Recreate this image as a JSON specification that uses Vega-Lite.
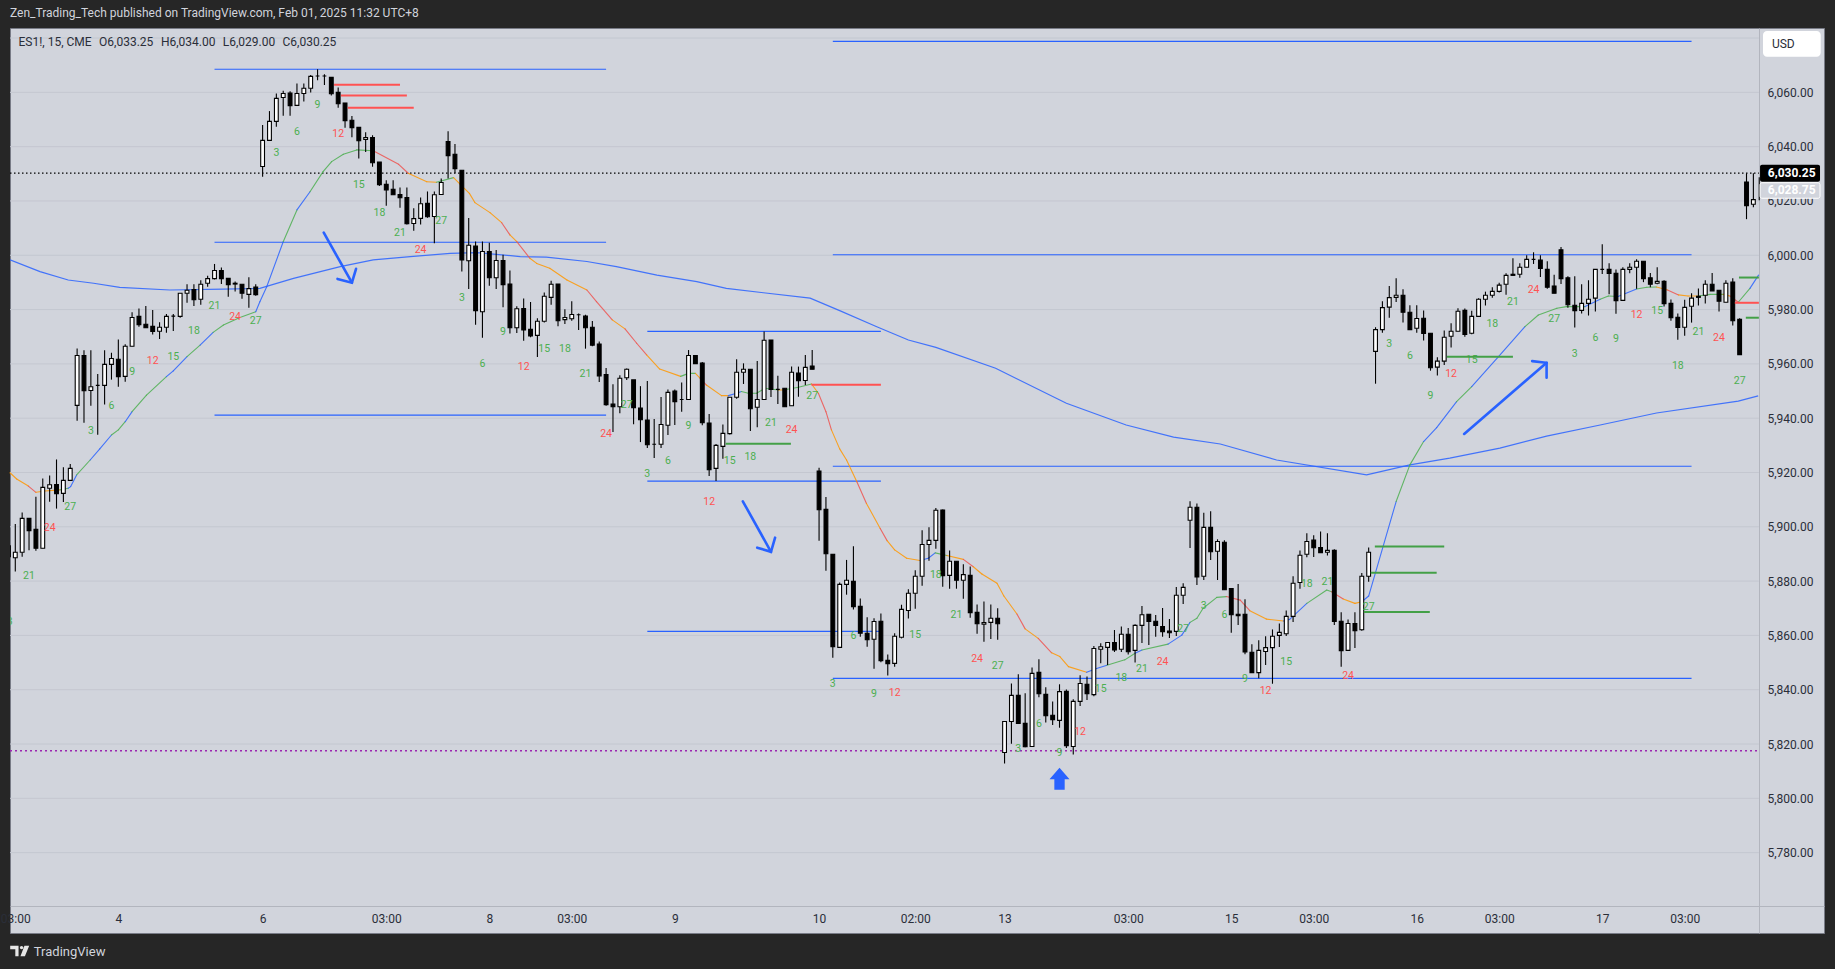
{"$schema":"https://vega.github.io/schema/vega-lite/v6.json","width":1814,"height":905,"autosize":{"type":"none"},"padding":{"left":10,"top":28,"right":11,"bottom":36},"background":"#262626","view":{"fill":"#d1d4dc","stroke":"#787b86","strokeWidth":1},
"title":{"text":"Zen_Trading_Tech published on TradingView.com, Feb 01, 2025 11:32 UTC+8","anchor":"start","frame":"group","offset":8,"fontSize":12,"font":"Roboto","fontWeight":"normal","color":"#d1d4dc"},
"config":{"text":{"font":"Roboto"}},
"datasets":{
"grid":[{"i":-0.77,"i2":253.8,"p":5780},{"i":-0.77,"i2":253.8,"p":5800},{"i":-0.77,"i2":253.8,"p":5820},{"i":-0.77,"i2":253.8,"p":5840},{"i":-0.77,"i2":253.8,"p":5860},{"i":-0.77,"i2":253.8,"p":5880},{"i":-0.77,"i2":253.8,"p":5900},{"i":-0.77,"i2":253.8,"p":5920},{"i":-0.77,"i2":253.8,"p":5940},{"i":-0.77,"i2":253.8,"p":5960},{"i":-0.77,"i2":253.8,"p":5980},{"i":-0.77,"i2":253.8,"p":6000},{"i":-0.77,"i2":253.8,"p":6020},{"i":-0.77,"i2":253.8,"p":6040},{"i":-0.77,"i2":253.8,"p":6060},{"i":-0.77,"i2":253.8,"p":6080}],
"levels":[{"i":29,"i2":86,"p":6068.5,"k":"box"},{"i":29,"i2":86,"p":6004.8,"k":"box"},{"i":29,"i2":86,"p":5941.1,"k":"box"},{"i":92,"i2":126,"p":5972,"k":"box"},{"i":92,"i2":126,"p":5916.8,"k":"box"},{"i":92,"i2":126,"p":5861.5,"k":"box"},{"i":119,"i2":244,"p":6078.8,"k":"box"},{"i":119,"i2":244,"p":6000.2,"k":"box"},{"i":119,"i2":244,"p":5922.3,"k":"box"},{"i":119,"i2":244,"p":5844.2,"k":"box"},
{"i":46.4,"i2":56,"p":6062.8,"k":"sell"},{"i":47.4,"i2":57,"p":6058.8,"k":"sell"},{"i":48.4,"i2":58,"p":6054.3,"k":"sell"},{"i":115.9,"i2":126,"p":5952.3,"k":"sell"},{"i":250.3,"i2":253.8,"p":5982.5,"k":"sell"},
{"i":103.4,"i2":112.9,"p":5930.6,"k":"buy"},{"i":197.9,"i2":208,"p":5892.7,"k":"buy"},{"i":197.3,"i2":206.9,"p":5883.1,"k":"buy"},{"i":196.3,"i2":205.9,"p":5868.6,"k":"buy"},{"i":208.4,"i2":218,"p":5962.6,"k":"buy"},{"i":250.9,"i2":253.8,"p":5991.8,"k":"buy"},{"i":251.9,"i2":253.8,"p":5977,"k":"buy"},
{"i":-0.77,"i2":253.8,"p":6030.25,"k":"last"},{"i":-0.77,"i2":253.8,"p":5817.5,"k":"low"}],
"slow":[{"i":-0.77,"p":5998.3},{"i":3.6,"p":5994},{"i":7.7,"p":5990.9},{"i":11.4,"p":5989.7},{"i":15.2,"p":5988.2},{"i":22.5,"p":5987.2},{"i":30.3,"p":5987.5},{"i":35.6,"p":5987.8},{"i":40.5,"p":5991.5},{"i":47.3,"p":5995.8},{"i":52.1,"p":5998.3},{"i":57.5,"p":5999.5},{"i":63.3,"p":6000.7},{"i":67.2,"p":6001},{"i":73.5,"p":5999.5},{"i":77.3,"p":5999.3},{"i":83.2,"p":5997.7},{"i":87.5,"p":5995.8},{"i":93.4,"p":5992.7},{"i":99.2,"p":5990.3},{"i":103.5,"p":5987.8},{"i":108.9,"p":5986.2},{"i":115.7,"p":5984.2},{"i":120,"p":5979.6},{"i":125.4,"p":5973.7},{"i":130,"p":5968.8},{"i":134,"p":5966.1},{"i":142.7,"p":5958.4},{"i":153,"p":5945.5},{"i":161.7,"p":5937.5},{"i":168.6,"p":5933},{"i":175.4,"p":5930.5},{"i":183.6,"p":5924.6},{"i":196.7,"p":5919.1},{"i":203,"p":5922.8},{"i":208.8,"p":5925.3},{"i":216.1,"p":5929},{"i":222.9,"p":5933.4},{"i":230.7,"p":5937.5},{"i":238.9,"p":5941.9},{"i":250.8,"p":5946.3},{"i":253.7,"p":5948.2}],
"fast":[{"i":-0.77,"p":5919.9,"t":"o"},{"i":0.2,"p":5917.6,"t":"o"},{"i":1.9,"p":5915,"t":"r"},{"i":3,"p":5912.7,"t":"o"},{"i":4.3,"p":5913.2,"t":"o"},{"i":6.5,"p":5913.6,"t":"g"},{"i":7.7,"p":5914.2,"t":"b"},{"i":8.06,"p":5914.8,"t":"b"},{"i":8.93,"p":5919.1,"t":"g"},{"i":10.9,"p":5924.6,"t":"b"},{"i":12.3,"p":5928.7,"t":"b"},{"i":14,"p":5933.8,"t":"g"},{"i":15,"p":5935.7,"t":"g"},{"i":16,"p":5938.7,"t":"b"},{"i":17,"p":5942.4,"t":"g"},{"i":19.1,"p":5948.5,"t":"g"},{"i":22,"p":5955.3,"t":"b"},{"i":23,"p":5957.4,"t":"b"},{"i":25,"p":5962.7,"t":"g"},{"i":26.9,"p":5966.9,"t":"b"},{"i":28.8,"p":5971.6,"t":"g"},{"i":30.3,"p":5974.3,"t":"g"},{"i":32.7,"p":5977.1,"t":"g"},{"i":35,"p":5979.2,"t":"b"},{"i":35.6,"p":5982.9,"t":"b"},{"i":36.6,"p":5988.4,"t":"b"},{"i":39,"p":6005,"t":"g"},{"i":41,"p":6016.7,"t":"b"},{"i":42.9,"p":6023.4,"t":"g"},{"i":44.8,"p":6030.8,"t":"g"},{"i":46.05,"p":6034.5,"t":"g"},{"i":47.75,"p":6037.2,"t":"g"},{"i":49.7,"p":6038.8,"t":"g"},{"i":52.1,"p":6038.5,"t":"r"},{"i":55.8,"p":6033.5,"t":"r"},{"i":57.2,"p":6030.2,"t":"o"},{"i":59.9,"p":6027.1,"t":"o"},{"i":61.3,"p":6026.9,"t":"g"},{"i":63.8,"p":6028.6,"t":"o"},{"i":64.7,"p":6026.3,"t":"o"},{"i":66.1,"p":6022.8,"t":"o"},{"i":66.9,"p":6019.4,"t":"o"},{"i":69.1,"p":6015.7,"t":"o"},{"i":70.8,"p":6012,"t":"r"},{"i":72,"p":6007.5,"t":"o"},{"i":73,"p":6005,"t":"r"},{"i":74.9,"p":5998.9,"t":"o"},{"i":75.9,"p":5997,"t":"o"},{"i":77.8,"p":5995.2,"t":"o"},{"i":80.3,"p":5990.9,"t":"o"},{"i":83.2,"p":5987.2,"t":"r"},{"i":84.6,"p":5982.9,"t":"r"},{"i":86.9,"p":5976.2,"t":"o"},{"i":88.75,"p":5972.9,"t":"r"},{"i":90.45,"p":5967.6,"t":"r"},{"i":91.9,"p":5963.3,"t":"o"},{"i":93.8,"p":5958.1,"t":"o"},{"i":96.85,"p":5955.4,"t":"g"},{"i":98,"p":5956.5,"t":"g"},{"i":99,"p":5956.5,"t":"o"},{"i":99.7,"p":5954.7,"t":"r"},{"i":100.6,"p":5952.2,"t":"o"},{"i":102.8,"p":5948.3,"t":"o"},{"i":103.8,"p":5948.3,"t":"b"},{"i":105,"p":5949.2,"t":"b"},{"i":105.7,"p":5949.8,"t":"g"},{"i":106.7,"p":5949.2,"t":"g"},{"i":107.9,"p":5949.2,"t":"g"},{"i":109.1,"p":5951,"t":"g"},{"i":111.1,"p":5950.4,"t":"o"},{"i":111.8,"p":5950.4,"t":"g"},{"i":114,"p":5951.4,"t":"g"},{"i":115.9,"p":5952.6,"t":"o"},{"i":116.9,"p":5949.2,"t":"r"},{"i":118,"p":5942.4,"t":"r"},{"i":118.8,"p":5935.7,"t":"o"},{"i":120,"p":5928.7,"t":"o"},{"i":121,"p":5924.6,"t":"o"},{"i":122.5,"p":5916.6,"t":"r"},{"i":123.9,"p":5908.6,"t":"o"},{"i":125.9,"p":5899.4,"t":"r"},{"i":126.9,"p":5894.9,"t":"o"},{"i":128,"p":5891.5,"t":"o"},{"i":129.75,"p":5888.4,"t":"o"},{"i":131.7,"p":5887.6,"t":"b"},{"i":132.9,"p":5888.4,"t":"b"},{"i":133.9,"p":5890.4,"t":"g"},{"i":135.6,"p":5889.4,"t":"o"},{"i":138,"p":5888,"t":"r"},{"i":139.45,"p":5885.3,"t":"o"},{"i":140.7,"p":5882.6,"t":"o"},{"i":142.9,"p":5879.2,"t":"o"},{"i":143.9,"p":5874.5,"t":"o"},{"i":145.8,"p":5867.9,"t":"r"},{"i":147,"p":5862.4,"t":"o"},{"i":148.9,"p":5858.9,"t":"r"},{"i":150.85,"p":5853.6,"t":"o"},{"i":152.05,"p":5852.2,"t":"o"},{"i":153.3,"p":5848.5,"t":"o"},{"i":155.95,"p":5846.4,"t":"b"},{"i":157.4,"p":5847.8,"t":"b"},{"i":158.9,"p":5849,"t":"g"},{"i":161.5,"p":5851,"t":"g"},{"i":163,"p":5853.4,"t":"b"},{"i":164,"p":5854.6,"t":"g"},{"i":167.8,"p":5856.8,"t":"b"},{"i":169.8,"p":5860.1,"t":"b"},{"i":171,"p":5864.8,"t":"g"},{"i":172,"p":5866.3,"t":"g"},{"i":172.9,"p":5870,"t":"g"},{"i":174.9,"p":5874,"t":"g"},{"i":176.3,"p":5874.3,"t":"r"},{"i":178.3,"p":5873,"t":"r"},{"i":179.7,"p":5869.1,"t":"o"},{"i":182.1,"p":5866,"t":"o"},{"i":184.6,"p":5865.3,"t":"b"},{"i":185.5,"p":5865.9,"t":"b"},{"i":188,"p":5871.8,"t":"g"},{"i":190.9,"p":5876.7,"t":"g"},{"i":191.6,"p":5876.1,"t":"r"},{"i":193.3,"p":5873.4,"t":"o"},{"i":195,"p":5871.8,"t":"o"},{"i":196,"p":5872.4,"t":"b"},{"i":197,"p":5874.5,"t":"b"},{"i":201,"p":5909.3,"t":"g"},{"i":203,"p":5922.8,"t":"g"},{"i":205,"p":5931.4,"t":"b"},{"i":206.9,"p":5936.5,"t":"b"},{"i":209.8,"p":5946.1,"t":"g"},{"i":212,"p":5951.6,"t":"b"},{"i":215.9,"p":5962.7,"t":"b"},{"i":219.75,"p":5973.7,"t":"g"},{"i":221.7,"p":5978,"t":"g"},{"i":224.4,"p":5980.5,"t":"g"},{"i":225.8,"p":5981.1,"t":"g"},{"i":226.8,"p":5981.1,"t":"g"},{"i":228.5,"p":5981.1,"t":"b"},{"i":230.7,"p":5983.8,"t":"g"},{"i":231.9,"p":5985,"t":"g"},{"i":233.3,"p":5984.8,"t":"b"},{"i":236,"p":5987.6,"t":"g"},{"i":237.5,"p":5988.2,"t":"g"},{"i":238.9,"p":5988.3,"t":"o"},{"i":240.5,"p":5987.2,"t":"r"},{"i":242.1,"p":5985.4,"t":"o"},{"i":243.5,"p":5985,"t":"o"},{"i":245,"p":5985,"t":"g"},{"i":246.7,"p":5985.6,"t":"g"},{"i":248.6,"p":5985.6,"t":"o"},{"i":249.6,"p":5985,"t":"r"},{"i":250.8,"p":5982.7,"t":"g"},{"i":252.5,"p":5987.8,"t":"b"},{"i":253.75,"p":5992.7,"t":"b"}],
"candles":[{"i":-1,"o":5893,"h":5895,"l":5887,"c":5889},{"i":0,"o":5888.6,"h":5901,"l":5883.5,"c":5890.6},{"i":1,"o":5890.6,"h":5905.3,"l":5889,"c":5903.1},{"i":2,"o":5903.1,"h":5903.1,"l":5891.4,"c":5898.6},{"i":3,"o":5899.1,"h":5911.1,"l":5891.2,"c":5892.1},{"i":4,"o":5892.1,"h":5917.8,"l":5892.1,"c":5914.5},{"i":5,"o":5914.2,"h":5918.9,"l":5909.2,"c":5915.5},{"i":6,"o":5915.6,"h":5924.8,"l":5906.7,"c":5912.2},{"i":7,"o":5912.3,"h":5921.9,"l":5909.1,"c":5917.1},{"i":8,"o":5917.1,"h":5923.1,"l":5917.1,"c":5921.5},{"i":9,"o":5944.7,"h":5965.7,"l":5939.1,"c":5963.1},{"i":10,"o":5963.1,"h":5965,"l":5938.3,"c":5950.1},{"i":11,"o":5950.2,"h":5965,"l":5944.6,"c":5951.6},{"i":12,"o":5952.1,"h":5956.3,"l":5933.9,"c":5952.1},{"i":13,"o":5952.1,"h":5965,"l":5945,"c":5959.8},{"i":14,"o":5959.8,"h":5964.1,"l":5954.2,"c":5962},{"i":15,"o":5961.7,"h":5969,"l":5951.6,"c":5955.3},{"i":16,"o":5955.4,"h":5967.2,"l":5953.4,"c":5966.5},{"i":17,"o":5966.5,"h":5979,"l":5966.5,"c":5977.1},{"i":18,"o":5977.5,"h":5980.4,"l":5973.7,"c":5974.4},{"i":19,"o":5974.6,"h":5981.3,"l":5973.3,"c":5973.3},{"i":20,"o":5973.8,"h":5979.8,"l":5970.8,"c":5971.9},{"i":21,"o":5972,"h":5975.3,"l":5969.2,"c":5973.5},{"i":22,"o":5973.5,"h":5978.4,"l":5971.5,"c":5977.5},{"i":23,"o":5977.6,"h":5978.4,"l":5972.1,"c":5977.6},{"i":24,"o":5977.5,"h":5986,"l":5977,"c":5986},{"i":25,"o":5986,"h":5989.3,"l":5982.5,"c":5987.1},{"i":26,"o":5987.4,"h":5989.3,"l":5981.3,"c":5983.6},{"i":27,"o":5983.8,"h":5990.8,"l":5981.8,"c":5989.3},{"i":28,"o":5989.7,"h":5992.5,"l":5988.4,"c":5991.4},{"i":29,"o":5991.4,"h":5996.8,"l":5991.1,"c":5994.4},{"i":30,"o":5994.4,"h":5995.5,"l":5989.4,"c":5991.4},{"i":31,"o":5991.5,"h":5991.5,"l":5984.7,"c":5989.2},{"i":32,"o":5989.7,"h":5990.3,"l":5986.7,"c":5989.4},{"i":33,"o":5989.3,"h":5989.3,"l":5984,"c":5986},{"i":34,"o":5985.6,"h":5991.9,"l":5980.7,"c":5987.7},{"i":35,"o":5988.3,"h":5989.3,"l":5985.1,"c":5985.5},{"i":36,"o":6032.7,"h":6048,"l":6028.9,"c":6042.3},{"i":37,"o":6042.3,"h":6053.1,"l":6042.3,"c":6049.3},{"i":38,"o":6049.3,"h":6059.6,"l":6047.3,"c":6057.8},{"i":39,"o":6058.1,"h":6060.6,"l":6051.4,"c":6059.6},{"i":40,"o":6059.7,"h":6060.4,"l":6051.4,"c":6055.1},{"i":41,"o":6055.2,"h":6063.3,"l":6055.2,"c":6059.6},{"i":42,"o":6059.6,"h":6063.3,"l":6056.6,"c":6061.5},{"i":43,"o":6061.5,"h":6066.4,"l":6059.9,"c":6065.9},{"i":44,"o":6066,"h":6068.5,"l":6064.5,"c":6066},{"i":45,"o":6066,"h":6066.7,"l":6062.7,"c":6066},{"i":46,"o":6065.5,"h":6065.5,"l":6058.8,"c":6059.5},{"i":47,"o":6060,"h":6061.8,"l":6054.3,"c":6055.8},{"i":48,"o":6056.1,"h":6056.1,"l":6047,"c":6049.6},{"i":49,"o":6049.7,"h":6051.3,"l":6043.5,"c":6047},{"i":50,"o":6047.1,"h":6047.1,"l":6035.6,"c":6042.2},{"i":51,"o":6042.7,"h":6045.3,"l":6038,"c":6043.4},{"i":52,"o":6043.4,"h":6044.2,"l":6032.6,"c":6034.1},{"i":53,"o":6034.3,"h":6034.3,"l":6025.5,"c":6026},{"i":54,"o":6026.1,"h":6027.6,"l":6018.2,"c":6024.1},{"i":55,"o":6024.3,"h":6027.6,"l":6022.3,"c":6022.3},{"i":56,"o":6022.4,"h":6025,"l":6017.5,"c":6021.2},{"i":57,"o":6021.3,"h":6025,"l":6011.3,"c":6011.6},{"i":58,"o":6011.7,"h":6017.3,"l":6009,"c":6013.5},{"i":59,"o":6013.6,"h":6021.3,"l":6011.3,"c":6019},{"i":60,"o":6019.1,"h":6023.5,"l":6013.8,"c":6014.2},{"i":61,"o":6014.3,"h":6023.5,"l":6004.4,"c":6022.3},{"i":62,"o":6022.4,"h":6028.3,"l":6022.4,"c":6026.8},{"i":63,"o":6041.9,"h":6045.7,"l":6028.3,"c":6036.7},{"i":64,"o":6037.2,"h":6041,"l":6030.2,"c":6031.9},{"i":65,"o":6031.3,"h":6031.3,"l":5994,"c":5998.3},{"i":66,"o":5998,"h":6013.7,"l":5987.6,"c":6003.7},{"i":67,"o":6003.4,"h":6005.1,"l":5974.4,"c":5979.6},{"i":68,"o":5979.2,"h":6005.1,"l":5969.6,"c":6001.4},{"i":69,"o":6001.4,"h":6004.6,"l":5988.8,"c":5991.7},{"i":70,"o":5991.7,"h":6001.9,"l":5987.6,"c":5998.1},{"i":71,"o":5998.1,"h":6000.2,"l":5980.9,"c":5989.2},{"i":72,"o":5989.4,"h":5994.4,"l":5971.2,"c":5973.3},{"i":73,"o":5973.3,"h":5981.2,"l":5971.4,"c":5980.3},{"i":74,"o":5980.4,"h":5984.1,"l":5968.5,"c":5972.5},{"i":75,"o":5972.7,"h":5982.8,"l":5969.8,"c":5970.3},{"i":76,"o":5970.5,"h":5976.8,"l":5962.5,"c":5975.7},{"i":77,"o":5975.7,"h":5986.3,"l":5975.2,"c":5984.9},{"i":78,"o":5984.5,"h":5990.6,"l":5981.8,"c":5989.3},{"i":79,"o":5989.4,"h":5989.4,"l":5973.9,"c":5975.9},{"i":80,"o":5976.3,"h":5980.1,"l":5974.7,"c":5977.1},{"i":81,"o":5976.6,"h":5983.1,"l":5975.9,"c":5978.2},{"i":82,"o":5978.1,"h":5978.6,"l":5972.5,"c":5978.1},{"i":83,"o":5977.6,"h":5978.1,"l":5965.6,"c":5973.3},{"i":84,"o":5973.5,"h":5975.8,"l":5966.5,"c":5966.9},{"i":85,"o":5967.3,"h":5968.2,"l":5953.3,"c":5955.6},{"i":86,"o":5956.1,"h":5958.5,"l":5944.6,"c":5945},{"i":87,"o":5945.2,"h":5952.5,"l":5934.9,"c":5944.2},{"i":88,"o":5944.2,"h":5955.8,"l":5941.8,"c":5954.7},{"i":89,"o":5954.9,"h":5958.3,"l":5954.1,"c":5958},{"i":90,"o":5954.1,"h":5954.1,"l":5937.8,"c":5943.9},{"i":91,"o":5943.7,"h":5951.8,"l":5931.2,"c":5939.4},{"i":92,"o":5939.3,"h":5953.7,"l":5929,"c":5930.2},{"i":93,"o":5930.4,"h":5939.7,"l":5925.3,"c":5930.4},{"i":94,"o":5930.4,"h":5947.8,"l":5929,"c":5937.7},{"i":95,"o":5937.4,"h":5950.6,"l":5933.8,"c":5949.5},{"i":96,"o":5950,"h":5950.6,"l":5937.5,"c":5946.1},{"i":97,"o":5946.9,"h":5953.1,"l":5942.4,"c":5946.9},{"i":98,"o":5946.9,"h":5965.1,"l":5946.9,"c":5963.1},{"i":99,"o":5963.1,"h":5963.1,"l":5960.1,"c":5960.1},{"i":100,"o":5960.3,"h":5960.7,"l":5937.4,"c":5938.3},{"i":101,"o":5938.2,"h":5941.5,"l":5918.7,"c":5921},{"i":102,"o":5921.5,"h":5930.5,"l":5916.9,"c":5930},{"i":103,"o":5929.6,"h":5937.7,"l":5925.1,"c":5934.4},{"i":104,"o":5934.3,"h":5947.7,"l":5934,"c":5947.7},{"i":105,"o":5947.7,"h":5961.7,"l":5947.2,"c":5956.9},{"i":106,"o":5956.9,"h":5960.2,"l":5952.6,"c":5958},{"i":107,"o":5958,"h":5958,"l":5935.3,"c":5943.5},{"i":108,"o":5944,"h":5961.1,"l":5936.7,"c":5946.9},{"i":109,"o":5946.9,"h":5971.9,"l":5946.9,"c":5968.7},{"i":110,"o":5968.8,"h":5968.8,"l":5947.8,"c":5950.6},{"i":111,"o":5950.6,"h":5955.6,"l":5945.2,"c":5950.6},{"i":112,"o":5951,"h":5951,"l":5944.2,"c":5944.2},{"i":113,"o":5944.6,"h":5959,"l":5944.6,"c":5956.9},{"i":114,"o":5956.6,"h":5959,"l":5947.9,"c":5953.8},{"i":115,"o":5953.9,"h":5963.3,"l":5952.2,"c":5958.7},{"i":116,"o":5959.2,"h":5965.1,"l":5958,"c":5958},{"i":117,"o":5920.5,"h":5921.7,"l":5894.9,"c":5906.3},{"i":118,"o":5906.4,"h":5911,"l":5883.8,"c":5890.1},{"i":119,"o":5889.9,"h":5889.9,"l":5851.8,"c":5855.8},{"i":120,"o":5855.6,"h":5879.5,"l":5855.6,"c":5878.8},{"i":121,"o":5878.8,"h":5887.8,"l":5875,"c":5880.3},{"i":122,"o":5879.9,"h":5892.8,"l":5869.5,"c":5870.6},{"i":123,"o":5870.7,"h":5873.6,"l":5859.5,"c":5860.8},{"i":124,"o":5860.8,"h":5866.7,"l":5855.8,"c":5858.4},{"i":125,"o":5858.6,"h":5866.3,"l":5847.7,"c":5865.1},{"i":126,"o":5865.2,"h":5868.1,"l":5850.1,"c":5850.7},{"i":127,"o":5850.8,"h":5853,"l":5845.2,"c":5849.6},{"i":128,"o":5849.7,"h":5860.8,"l":5848.5,"c":5859.7},{"i":129,"o":5859.3,"h":5871.3,"l":5858.9,"c":5869.6},{"i":130,"o":5869.2,"h":5877,"l":5866.2,"c":5875.5},{"i":131,"o":5875.5,"h":5884,"l":5869.8,"c":5881.8},{"i":132,"o":5881.8,"h":5898.7,"l":5878.3,"c":5893.5},{"i":133,"o":5893.5,"h":5899.8,"l":5887.5,"c":5895},{"i":134,"o":5895,"h":5906.9,"l":5891.9,"c":5906.1},{"i":135,"o":5906.2,"h":5906.4,"l":5877.9,"c":5882},{"i":136,"o":5882.1,"h":5891.3,"l":5877.2,"c":5887.3},{"i":137,"o":5887.3,"h":5887.3,"l":5877.2,"c":5880.3},{"i":138,"o":5880.3,"h":5886.2,"l":5873.5,"c":5882.4},{"i":139,"o":5882.1,"h":5885.4,"l":5866.5,"c":5868.4},{"i":140,"o":5868.5,"h":5871.4,"l":5860.6,"c":5864.3},{"i":141,"o":5864.1,"h":5872.5,"l":5857.7,"c":5864.7},{"i":142,"o":5864.8,"h":5871.4,"l":5858.7,"c":5866.3},{"i":143,"o":5866.3,"h":5870,"l":5858.4,"c":5864.3},{"i":144,"o":5816.9,"h":5828.3,"l":5812.8,"c":5828.3},{"i":145,"o":5828.3,"h":5842.3,"l":5820.1,"c":5837.9},{"i":146,"o":5837.9,"h":5845.7,"l":5827.6,"c":5827.6},{"i":147,"o":5827.6,"h":5838.7,"l":5818.8,"c":5819},{"i":148,"o":5819.1,"h":5848.2,"l":5819.1,"c":5846},{"i":149,"o":5846.4,"h":5851.2,"l":5837.2,"c":5838.5},{"i":150,"o":5838.3,"h":5840.9,"l":5827.9,"c":5830.4},{"i":151,"o":5830.6,"h":5835.7,"l":5827,"c":5829},{"i":152,"o":5828.7,"h":5842,"l":5826,"c":5839.3},{"i":153,"o":5839.4,"h":5840.1,"l":5818.5,"c":5819.4},{"i":154,"o":5819.1,"h":5836.5,"l":5816.1,"c":5835.7},{"i":155,"o":5835.7,"h":5845.3,"l":5834,"c":5842.3},{"i":156,"o":5842,"h":5844.9,"l":5836.2,"c":5838.5},{"i":157,"o":5838.2,"h":5856.1,"l":5837.6,"c":5855.2},{"i":158,"o":5854.9,"h":5857.1,"l":5849.7,"c":5855.8},{"i":159,"o":5855.6,"h":5857.4,"l":5849.1,"c":5857.4},{"i":160,"o":5857.4,"h":5862,"l":5853.9,"c":5854.6},{"i":161,"o":5854.9,"h":5863.3,"l":5853.9,"c":5860.4},{"i":162,"o":5860.4,"h":5862.7,"l":5853,"c":5854},{"i":163,"o":5854.5,"h":5864.1,"l":5850,"c":5863.7},{"i":164,"o":5863.7,"h":5870.8,"l":5857.2,"c":5867.6},{"i":165,"o":5867.8,"h":5867.8,"l":5856.5,"c":5865.1},{"i":166,"o":5865.2,"h":5867.5,"l":5859.5,"c":5863.7},{"i":167,"o":5863.3,"h":5870.1,"l":5859.5,"c":5861.4},{"i":168,"o":5861.6,"h":5866,"l":5859,"c":5861},{"i":169,"o":5861.5,"h":5877.8,"l":5859.8,"c":5874.8},{"i":170,"o":5874.8,"h":5879.2,"l":5871.6,"c":5877.7},{"i":171,"o":5902.4,"h":5909.4,"l":5892.2,"c":5907.2},{"i":172,"o":5907.2,"h":5908.6,"l":5878.6,"c":5881.5},{"i":173,"o":5881.8,"h":5905.2,"l":5880.4,"c":5899.8},{"i":174,"o":5899.8,"h":5905.7,"l":5887.8,"c":5890.8},{"i":175,"o":5891,"h":5895.4,"l":5880.4,"c":5894.6},{"i":176,"o":5894.3,"h":5895,"l":5876.8,"c":5876.8},{"i":177,"o":5877.3,"h":5877.3,"l":5861,"c":5867.6},{"i":178,"o":5867.8,"h":5878.9,"l":5863.8,"c":5867.3},{"i":179,"o":5867.8,"h":5873.3,"l":5853.1,"c":5853.9},{"i":180,"o":5853.8,"h":5856.7,"l":5846.3,"c":5846.3},{"i":181,"o":5846.3,"h":5858.2,"l":5844.2,"c":5854.5},{"i":182,"o":5854.1,"h":5859.7,"l":5849.1,"c":5855.5},{"i":183,"o":5855.5,"h":5862.2,"l":5842.2,"c":5859.7},{"i":184,"o":5860,"h":5864.4,"l":5855.7,"c":5861.1},{"i":185,"o":5860.6,"h":5869.2,"l":5859.8,"c":5867},{"i":186,"o":5867,"h":5881.8,"l":5864.9,"c":5879.2},{"i":187,"o":5879.5,"h":5891.3,"l":5877.2,"c":5889.5},{"i":188,"o":5889.9,"h":5897.6,"l":5888.8,"c":5894.6},{"i":189,"o":5895.1,"h":5896.9,"l":5888.9,"c":5892.3},{"i":190,"o":5892.4,"h":5898.3,"l":5890.5,"c":5890.5},{"i":191,"o":5890.6,"h":5897.6,"l":5889.4,"c":5891.3},{"i":192,"o":5891.3,"h":5891.7,"l":5863.8,"c":5865.1},{"i":193,"o":5865.2,"h":5868.5,"l":5848.5,"c":5854.4},{"i":194,"o":5854.5,"h":5865.9,"l":5854.5,"c":5864.4},{"i":195,"o":5864.4,"h":5868.5,"l":5855.4,"c":5861.7},{"i":196,"o":5862.1,"h":5883,"l":5861.7,"c":5881.8},{"i":197,"o":5881.8,"h":5892.4,"l":5879.8,"c":5890.6},{"i":198,"o":5964.6,"h":5973.5,"l":5952.7,"c":5972.6},{"i":199,"o":5972.6,"h":5983.1,"l":5971.5,"c":5980.7},{"i":200,"o":5980.9,"h":5988.7,"l":5977,"c":5984.4},{"i":201,"o":5984.5,"h":5991.5,"l":5982.8,"c":5985.3},{"i":202,"o":5985.3,"h":5987.5,"l":5975.2,"c":5979},{"i":203,"o":5979,"h":5981.6,"l":5972.5,"c":5972.6},{"i":204,"o":5973.1,"h":5981.6,"l":5971.5,"c":5976.7},{"i":205,"o":5976.8,"h":5979.7,"l":5968.6,"c":5971.2},{"i":206,"o":5971.3,"h":5971.3,"l":5957.5,"c":5958.6},{"i":207,"o":5958.8,"h":5962.4,"l":5955.7,"c":5961},{"i":208,"o":5961,"h":5972.3,"l":5959.6,"c":5969.8},{"i":209,"o":5970.2,"h":5975,"l":5966,"c":5972},{"i":210,"o":5972,"h":5980.5,"l":5972,"c":5979.4},{"i":211,"o":5979.7,"h":5980.4,"l":5970,"c":5970.8},{"i":212,"o":5971.3,"h":5979.6,"l":5970.9,"c":5977.5},{"i":213,"o":5977.5,"h":5984.2,"l":5977.4,"c":5983.8},{"i":214,"o":5983.8,"h":5986.6,"l":5981.5,"c":5985.3},{"i":215,"o":5985.3,"h":5988.2,"l":5984.4,"c":5986.7},{"i":216,"o":5986.7,"h":5989.9,"l":5986.3,"c":5989},{"i":217,"o":5989.3,"h":5993.4,"l":5985.5,"c":5992.6},{"i":218,"o":5993,"h":5998.9,"l":5992.6,"c":5992.6},{"i":219,"o":5993,"h":5997.1,"l":5991.7,"c":5995.6},{"i":220,"o":5995.6,"h":6000,"l":5995.6,"c":5998.5},{"i":221,"o":5998.5,"h":6001.1,"l":5996.8,"c":5998.5},{"i":222,"o":5998.2,"h":6000,"l":5992,"c":5995.1},{"i":223,"o":5994.8,"h":5997.8,"l":5987.7,"c":5988.2},{"i":224,"o":5988.7,"h":5992.8,"l":5986,"c":5986},{"i":225,"o":6002,"h":6003,"l":5989.4,"c":5991.4},{"i":226,"o":5991.7,"h":5992.3,"l":5980.7,"c":5981.8},{"i":227,"o":5981.6,"h":5992.3,"l":5973.4,"c":5979.6},{"i":228,"o":5979.7,"h":5989.3,"l":5978.6,"c":5982.3},{"i":229,"o":5982.3,"h":5990.8,"l":5977.8,"c":5983.8},{"i":230,"o":5984.2,"h":5994.8,"l":5979.3,"c":5994.8},{"i":231,"o":5994.8,"h":6004.1,"l":5993.1,"c":5994.8},{"i":232,"o":5994.8,"h":5997.1,"l":5985.6,"c":5993.3},{"i":233,"o":5993.4,"h":5994.8,"l":5978.5,"c":5983.3},{"i":234,"o":5983.4,"h":5995.6,"l":5983.4,"c":5994.8},{"i":235,"o":5994.8,"h":5997.1,"l":5993.4,"c":5995.6},{"i":236,"o":5995.6,"h":5998.5,"l":5987.7,"c":5997.8},{"i":237,"o":5997.8,"h":5997.8,"l":5990.1,"c":5991.4},{"i":238,"o":5991.7,"h":5993.5,"l":5988.2,"c":5989.3},{"i":239,"o":5989.7,"h":5995.6,"l":5989.3,"c":5990.4},{"i":240,"o":5990.4,"h":5990.8,"l":5981.1,"c":5982.2},{"i":241,"o":5982.3,"h":5983.7,"l":5975.9,"c":5977},{"i":242,"o":5977.2,"h":5978.6,"l":5968.9,"c":5973.4},{"i":243,"o":5973.5,"h":5983.6,"l":5970.4,"c":5980.8},{"i":244,"o":5981.2,"h":5986,"l":5975.2,"c":5984.2},{"i":245,"o":5984.9,"h":5987.8,"l":5981.5,"c":5984.5},{"i":246,"o":5985.3,"h":5990.8,"l":5982.2,"c":5989.3},{"i":247,"o":5989.3,"h":5993.5,"l":5986.9,"c":5986.9},{"i":248,"o":5987.1,"h":5987.1,"l":5979.3,"c":5983.1},{"i":249,"o":5982.7,"h":5990.8,"l":5982.7,"c":5989.7},{"i":250,"o":5990.1,"h":5991.5,"l":5974.1,"c":5975.9},{"i":251,"o":5976.4,"h":5976.8,"l":5963.4,"c":5963.4},{"i":252,"o":6027,"h":6030.2,"l":6013.3,"c":6018.3},{"i":253,"o":6018.8,"h":6030.2,"l":6017.7,"c":6020.5},{"i":253.85,"o":null,"h":6028.7,"l":6020.3,"c":null}],
"counts":[{"i":-0.8,"p":5865.1,"n":3},{"i":2,"p":5882,"n":21},{"i":5,"p":5899.7,"n":24},{"i":8,"p":5907.4,"n":27},{"i":11,"p":5935.2,"n":3},{"i":14,"p":5944.6,"n":6},{"i":17,"p":5956.9,"n":9},{"i":20,"p":5961.2,"n":12},{"i":23,"p":5962.7,"n":15},{"i":26,"p":5972,"n":18},{"i":29,"p":5981.4,"n":21},{"i":32,"p":5977.4,"n":24},{"i":35,"p":5975.7,"n":27},{"i":38,"p":6037.8,"n":3},{"i":41,"p":6045.5,"n":6},{"i":44,"p":6055.2,"n":9},{"i":47,"p":6044.8,"n":12},{"i":50,"p":6026,"n":15},{"i":53,"p":6015.7,"n":18},{"i":56,"p":6008.1,"n":21},{"i":59,"p":6001.8,"n":24},{"i":62,"p":6012.7,"n":27},{"i":65,"p":5984.4,"n":3},{"i":68,"p":5960.1,"n":6},{"i":71,"p":5971.6,"n":9},{"i":74,"p":5959,"n":12},{"i":77,"p":5965.6,"n":15},{"i":80,"p":5965.4,"n":18},{"i":83,"p":5956.2,"n":21},{"i":86,"p":5934.3,"n":24},{"i":89,"p":5944.8,"n":27},{"i":92,"p":5919.6,"n":3},{"i":95,"p":5924.4,"n":6},{"i":98,"p":5937.2,"n":9},{"i":101,"p":5909.3,"n":12},{"i":104,"p":5924.4,"n":15},{"i":107,"p":5925.8,"n":18},{"i":110,"p":5938.3,"n":21},{"i":113,"p":5935.5,"n":24},{"i":116,"p":5948.3,"n":27},{"i":119,"p":5842.2,"n":3},{"i":122,"p":5859.8,"n":6},{"i":125,"p":5838.3,"n":9},{"i":128,"p":5838.9,"n":12},{"i":131,"p":5860.3,"n":15},{"i":134,"p":5882.4,"n":18},{"i":137,"p":5867.6,"n":21},{"i":140,"p":5851.2,"n":24},{"i":143,"p":5848.9,"n":27},{"i":146,"p":5818.3,"n":3},{"i":149,"p":5827.4,"n":6},{"i":152,"p":5816.6,"n":9},{"i":155,"p":5824.5,"n":12},{"i":158,"p":5840.4,"n":15},{"i":161,"p":5844.4,"n":18},{"i":164,"p":5847.7,"n":21},{"i":167,"p":5850.1,"n":24},{"i":170,"p":5862.3,"n":27},{"i":173,"p":5871,"n":3},{"i":176,"p":5867.6,"n":6},{"i":179,"p":5843.8,"n":9},{"i":182,"p":5839.6,"n":12},{"i":185,"p":5850.3,"n":15},{"i":188,"p":5879,"n":18},{"i":191,"p":5879.7,"n":21},{"i":194,"p":5845.2,"n":24},{"i":197,"p":5870.4,"n":27},{"i":200,"p":5967.4,"n":3},{"i":203,"p":5962.9,"n":6},{"i":206,"p":5948.1,"n":9},{"i":209,"p":5956.4,"n":12},{"i":212,"p":5961.4,"n":15},{"i":215,"p":5974.8,"n":18},{"i":218,"p":5982.9,"n":21},{"i":221,"p":5987.3,"n":24},{"i":224,"p":5976.6,"n":27},{"i":227,"p":5963.8,"n":3},{"i":230,"p":5969.5,"n":6},{"i":233,"p":5969.1,"n":9},{"i":236,"p":5978.1,"n":12},{"i":239,"p":5979.6,"n":15},{"i":242,"p":5959.3,"n":18},{"i":245,"p":5971.9,"n":21},{"i":248,"p":5969.7,"n":24},{"i":251,"p":5953.8,"n":27}],
"arrows":[{"g":"a1s","ord":1,"i":44.9,"p":6008.3},{"g":"a1s","ord":2,"i":49,"p":5989.9},{"g":"a1h","ord":1,"i":46.9,"p":5991.3},{"g":"a1h","ord":2,"i":49,"p":5989.9},{"g":"a1h","ord":3,"i":49.6,"p":5995},{"g":"a2s","ord":1,"i":105.9,"p":5909.4},{"g":"a2s","ord":2,"i":110,"p":5890.8},{"g":"a2h","ord":1,"i":108,"p":5892.3},{"g":"a2h","ord":2,"i":110,"p":5890.8},{"g":"a2h","ord":3,"i":110.6,"p":5896},{"g":"a3s","ord":1,"i":210.9,"p":5934.2},{"g":"a3s","ord":2,"i":222.9,"p":5960.4},{"g":"a3h","ord":1,"i":220.8,"p":5961},{"g":"a3h","ord":2,"i":222.9,"p":5960.4},{"g":"a3h","ord":3,"i":222.9,"p":5954.9}]
},
"encoding":{
"x":{"field":"i","type":"quantitative","scale":{"domain":[-0.77,263.28],"nice":false,"zero":false,"padding":0},"axis":{"title":null,"orient":"bottom","offset":-27,"values":[0,15,36,54,69,81,96,117,131,144,162,177,189,204,216,231,243],"labelExpr":"{'0':'03:00','15':'4','36':'6','54':'03:00','69':'8','81':'03:00','96':'9','117':'10','131':'02:00','144':'13','162':'03:00','177':'15','189':'03:00','204':'16','216':'03:00','231':'17','243':'03:00'}[datum.value]","ticks":false,"grid":false,"domainColor":"#b2b5be","domainWidth":1,"labelFont":"Roboto","labelFontSize":12,"labelColor":"#2a2e39","labelPadding":7,"labelOverlap":false,"labelFlush":false,"labelBound":false}},
"y":{"field":"p","type":"quantitative","title":null,"scale":{"domain":[5750.4,6083.7],"nice":false,"zero":false,"padding":0},"axis":{"title":null,"orient":"right","offset":-65,"values":[5780,5800,5820,5840,5860,5880,5900,5920,5940,5960,5980,6000,6020,6040,6060],"format":",.2f","ticks":false,"grid":false,"domainColor":"#b2b5be","domainWidth":1,"labelFont":"Roboto","labelFontSize":12,"labelColor":"#2a2e39","labelPadding":8,"labelOverlap":false,"labelBound":false}}
},
"layer":[
{"data":{"name":"grid"},"mark":{"type":"rule","color":"#c4c7d0","strokeWidth":1},"encoding":{"x2":{"field":"i2"}}},
{"data":{"name":"levels"},"transform":[{"filter":"datum.k=='last'"}],"mark":{"type":"rule","color":"#000000","strokeWidth":1.2,"strokeDash":[1.5,2.5]},"encoding":{"x2":{"field":"i2"}}},
{"data":{"name":"levels"},"transform":[{"filter":"datum.k=='low'"}],"mark":{"type":"rule","color":"#9c27b0","strokeWidth":1.5,"strokeDash":[2,3]},"encoding":{"x2":{"field":"i2"}}},
{"data":{"name":"slow"},"mark":{"type":"line","color":"#2962ff","strokeWidth":1.2,"opacity":0.85,"clip":true}},
{"data":{"name":"levels"},"transform":[{"filter":"datum.k=='box'"}],"mark":{"type":"rule","color":"#2962ff","strokeWidth":1.2},"encoding":{"x2":{"field":"i2"}}},
{"data":{"name":"fast"},"transform":[{"window":[{"op":"lead","field":"i","as":"i2"},{"op":"lead","field":"p","as":"p2"}],"sort":[{"field":"i","order":"ascending"}]},{"filter":"datum.i2 != null"}],"mark":{"type":"rule","strokeWidth":1.1,"strokeCap":"round","opacity":0.85},"encoding":{"x2":{"field":"i2"},"y2":{"field":"p2"},"color":{"field":"t","type":"nominal","legend":null,"scale":{"domain":["g","b","o","r"],"range":["#4caf50","#2962ff","#ff9800","#ef5350"]}}}},
{"data":{"name":"candles"},"mark":{"type":"rule","color":"#000000","strokeWidth":1.1,"clip":true},"encoding":{"y":{"field":"l","type":"quantitative","title":null},"y2":{"field":"h"}}},
{"data":{"name":"candles"},"transform":[{"filter":"isValid(datum.o)"}],"mark":{"type":"bar","orient":"vertical","size":3.8,"stroke":"#000000","strokeWidth":1.1,"clip":true},"encoding":{"y":{"field":"o","type":"quantitative","title":null},"y2":{"field":"c"},"color":{"condition":{"test":"datum.c>datum.o","value":"#ffffff"},"value":"#000000"}}},
{"data":{"name":"counts"},"mark":{"type":"text","fontSize":10.5,"baseline":"middle","align":"center","clip":true},"encoding":{"text":{"field":"n"},"color":{"condition":{"test":"datum.n==12||datum.n==24","value":"#ff5252"},"value":"#4caf50"}}},
{"data":{"name":"levels"},"transform":[{"filter":"datum.k=='sell'"}],"mark":{"type":"rule","color":"#ff5252","strokeWidth":2},"encoding":{"x2":{"field":"i2"}}},
{"data":{"name":"levels"},"transform":[{"filter":"datum.k=='buy'"}],"mark":{"type":"rule","color":"#43a047","strokeWidth":2},"encoding":{"x2":{"field":"i2"}}},
{"data":{"name":"arrows"},"mark":{"type":"line","color":"#2962ff","strokeWidth":2.6,"strokeCap":"round"},"encoding":{"detail":{"field":"g"},"order":{"field":"ord"}}},
{"data":{"values":[{"i":152,"p":5807.2}]},"mark":{"type":"point","shape":"M0,-1 L0.91,0.05 L0.47,0.05 L0.47,1 L-0.47,1 L-0.47,0.05 L-0.91,0.05 Z","size":484,"filled":true,"color":"#2962ff","opacity":1}},
{"data":{"values":[{"i":254.4,"i2":262.8,"p":6082.6,"p2":6073.1}]},"mark":{"type":"rect","fill":"#ffffff","cornerRadius":4},"encoding":{"x2":{"field":"i2"},"y2":{"field":"p2"}}},
{"data":{"values":[{"i":253.97,"i2":262.7,"p":6033.3,"p2":6027.1}]},"mark":{"type":"rect","fill":"#000000","cornerRadius":2},"encoding":{"x2":{"field":"i2"},"y2":{"field":"p2"}}},
{"data":{"values":[{"i":253.97,"i2":262.7,"p":6026.7,"p2":6021}]},"mark":{"type":"rect","fill":"#d1d4dc","stroke":"#ffffff","strokeWidth":1,"cornerRadius":2},"encoding":{"x2":{"field":"i2"},"y2":{"field":"p2"}}},
{"data":{"values":[{"i":255.1,"p":6030.25,"txt":"6,030.25"},{"i":255.1,"p":6023.9,"txt":"6,028.75"}]},"mark":{"type":"text","align":"left","baseline":"middle","fontSize":12,"fontWeight":"bold","color":"#ffffff"},"encoding":{"text":{"field":"txt"}}},
{"data":{"values":[{"i":255.7,"p":6077.7,"txt":"USD"},{"i":0.47,"p":6078.7,"txt":"ES1!, 15, CME"},{"i":12.2,"p":6078.7,"txt":"O6,033.25"},{"i":21.2,"p":6078.7,"txt":"H6,034.00"},{"i":30.2,"p":6078.7,"txt":"L6,029.00"},{"i":38.9,"p":6078.7,"txt":"C6,030.25"}]},"mark":{"type":"text","align":"left","baseline":"middle","fontSize":12,"color":"#2a2e39"},"encoding":{"text":{"field":"txt"}}},
{"data":{"values":[{"i":2.7,"p":5743.5,"txt":"TradingView"}]},"mark":{"type":"text","align":"left","baseline":"middle","fontSize":13,"color":"#d1d4dc","clip":false},"encoding":{"text":{"field":"txt"}}},
{"data":{"values":[{"i":0.64,"p":5743.8}]},"mark":{"type":"point","shape":"M-1,-0.55 H-0.12 V0.55 H-0.46 V-0.18 H-1 Z M0.02,-0.35 A0.18,0.18 0 1 1 0.38,-0.35 A0.18,0.18 0 1 1 0.02,-0.35 Z M0.5,-0.55 H1 L0.55,0.55 H0.08 Z","size":361,"filled":true,"color":"#e6e6e6","opacity":1}}
]}
